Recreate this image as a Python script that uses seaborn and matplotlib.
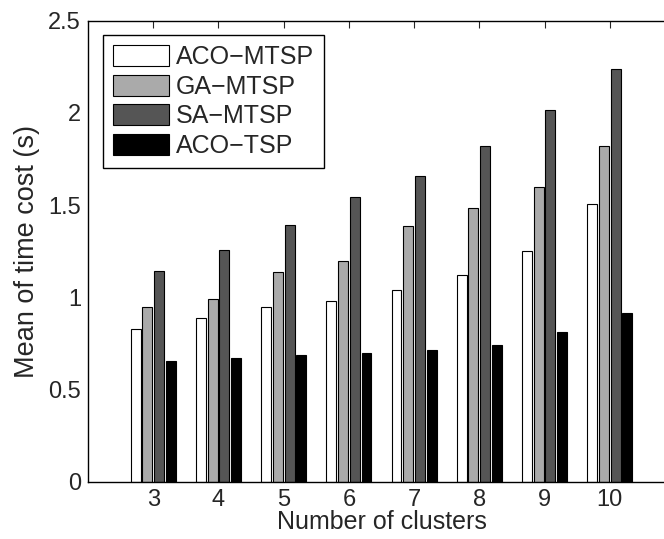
import pandas as pd
import seaborn as sns
import matplotlib.pyplot as plt

clusters = [3, 4, 5, 6, 7, 8, 9, 10]
methods = ["ACO\u2212MTSP", "GA\u2212MTSP", "SA\u2212MTSP", "ACO\u2212TSP"]
aco_mtsp = [0.83, 0.89, 0.95, 0.98, 1.04, 1.12, 1.25, 1.505]
ga_mtsp = [0.95, 0.99, 1.137, 1.20, 1.388, 1.483, 1.60, 1.82]
sa_mtsp = [1.145, 1.259, 1.395, 1.545, 1.659, 1.823, 2.018, 2.24]
aco_tsp = [0.654, 0.672, 0.690, 0.698, 0.717, 0.744, 0.815, 0.914]
colors = ["#ffffff", "#aaaaaa", "#555555", "#000000"]

rows = []
for m, vals in zip(methods, [aco_mtsp, ga_mtsp, sa_mtsp, aco_tsp]):
    for c, v in zip(clusters, vals):
        rows.append([c, m, v])
df = pd.DataFrame(rows, columns=["clusters", "method", "time"])

sns.set_style("white")
plt.rcParams['font.family'] = ['Liberation Sans', 'DejaVu Sans']

fig = plt.figure(figsize=(6.64, 5.39), dpi=100)
ax = fig.add_axes([88/664, 57/539, 587/664, 461.3/539])

sns.barplot(data=df, x="clusters", y="time", hue="method", hue_order=methods,
            palette=dict(zip(methods, colors)), native_scale=True,
            width=0.72, gap=0.15, edgecolor="black", linewidth=0.8,
            errorbar=None, ax=ax, saturation=1)

ax.set_xlim(2, 11)
ax.set_ylim(0, 2.5)
ax.set_xticks(clusters)
ax.set_xticklabels([str(c) for c in clusters])
ax.set_yticks([0, 0.5, 1, 1.5, 2, 2.5])
ax.set_yticklabels(["0", "0.5", "1", "1.5", "2", "2.5"])
ax.tick_params(direction="in", top=True, right=True, labelsize=17,
               length=5, width=0.8, pad=5)
for s in ax.spines.values():
    s.set_color("black")
    s.set_linewidth(1.0)

ax.set_xlabel("Number of clusters", fontsize=18, labelpad=-1)
ax.set_ylabel("Mean of time cost (s)", fontsize=19.5, labelpad=6)

handles, labels = ax.get_legend_handles_labels()
ax.legend(handles, labels, loc="upper left", fontsize=18, frameon=True,
          fancybox=False, edgecolor="black", framealpha=1,
          handlelength=2.27, handleheight=0.93, handletextpad=0.25,
          labelspacing=0.21, borderpad=0.4, borderaxespad=0.58)
ax.get_legend().get_frame().set_linewidth(1.0)

fig.savefig("out.png", dpi=100)
